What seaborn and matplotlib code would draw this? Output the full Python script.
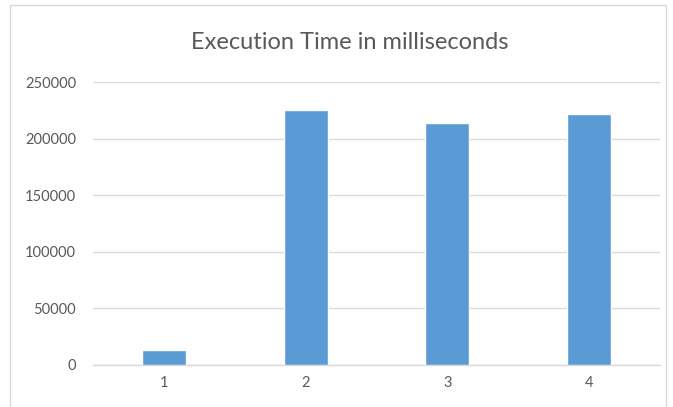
import matplotlib
matplotlib.use("Agg")
import matplotlib.pyplot as plt
from matplotlib.patches import Rectangle
import seaborn as sns
import pandas as pd

# Execution time per run
runs = ["1", "2", "3", "4"]
exec_ms = [13000, 226000, 214500, 222500]
y_ticks = [0, 50000, 100000, 150000, 200000, 250000]

sns.set_theme(style="white")
plt.rcParams["font.family"] = ["Lato", "DejaVu Sans"]

text_color = "#595959"
grid_color = "#d9d9d9"
bar_color = "#5b9bd5"

df = pd.DataFrame({"run": runs, "ms": exec_ms})

fig = plt.figure(figsize=(6.73, 4.07), dpi=100)
ax = fig.add_axes([0.138, 0.1044, 0.843, 0.6929])

sns.barplot(data=df, x="run", y="ms", color=bar_color, width=0.31,
            saturation=1, ax=ax, zorder=3)

ax.set_ylim(0, 250000)
ax.set_yticks(y_ticks)
ax.set_yticklabels([str(v) for v in y_ticks])
ax.set_xlim(-0.5, len(runs) - 0.5)
ax.yaxis.grid(True, color=grid_color, linewidth=1.0, zorder=0)
ax.xaxis.grid(False)
for side in ["top", "right", "left"]:
    ax.spines[side].set_visible(False)
ax.spines["bottom"].set_color(grid_color)
ax.spines["bottom"].set_linewidth(1.0)
ax.set_xlabel("")
ax.set_ylabel("")
ax.tick_params(axis="both", length=0, labelsize=10.5, labelcolor=text_color)
ax.tick_params(axis="y", pad=12)
ax.tick_params(axis="x", pad=8)

fig.text(0.52, 0.895, "Execution Time in milliseconds", ha="center",
         va="center", fontsize=17, color=text_color)

# Chart area border
fig.patches.append(Rectangle((0.0149, -0.05), 0.975, 1.0377,
                             transform=fig.transFigure, fill=False,
                             edgecolor=grid_color, linewidth=1.0))

fig.savefig("out.png", dpi=100, facecolor="white")
